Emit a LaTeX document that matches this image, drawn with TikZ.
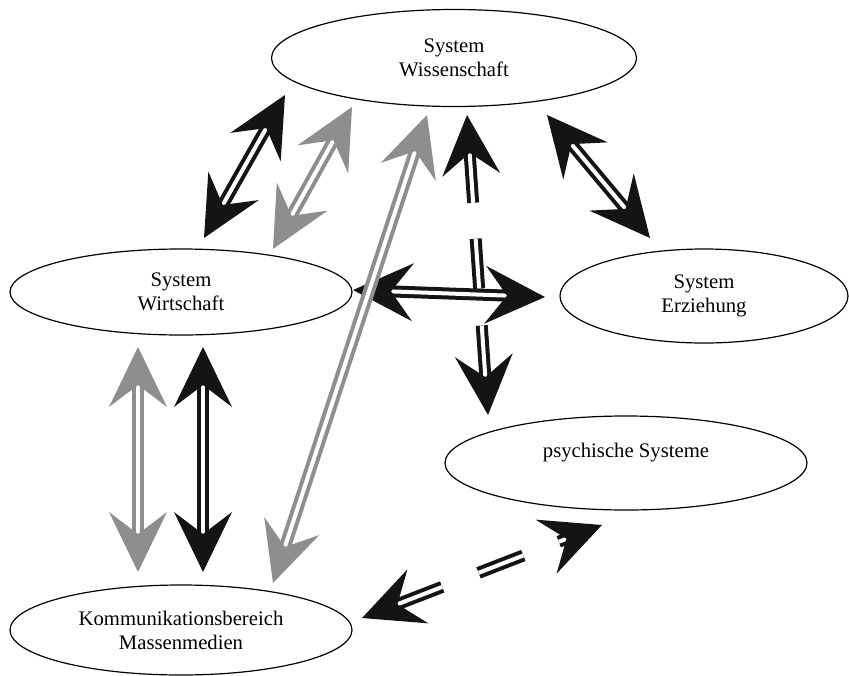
\documentclass[tikz,border=0pt]{standalone}
\usepackage{fontspec}
\setmainfont{Liberation Serif}
\usetikzlibrary{shapes.geometric,arrows.meta}
\definecolor{ink}{HTML}{141414}
\definecolor{ash}{HTML}{8E8E8E}
\tikzset{
  sys/.style={ellipse,draw,line width=1.2pt,inner sep=0pt,align=center,
    font=\fontsize{20.7}{24}\selectfont},
  dbl/.style={double=white,double distance=4pt,line width=4pt,
    {Stealth[length=60pt,width=58pt,inset=22pt,line width=0pt]}-{Stealth[length=60pt,width=58pt,inset=22pt,line width=0pt]}},
  blk/.style={dbl,draw=ink},
  gry/.style={dbl,draw=ash}
}
\begin{document}
\begin{tikzpicture}[x=1pt,y=-1pt,line join=miter]
      \useasboundingbox (0,0) rectangle (849,675);
      \node[sys,minimum width=365,minimum height=97] (wis) at (454,58) {System\\Wissenschaft};
      \node[sys,minimum width=342,minimum height=86] (wir) at (181,292) {System\\Wirtschaft};
      \node[sys,minimum width=288,minimum height=94] (erz) at (704,296) {System\\Erziehung};
      \node[sys,minimum width=362,minimum height=94,text depth=26pt] (psy) at (626,463) {psychische Systeme};
      \node[sys,minimum width=342,minimum height=90] (kom) at (181,630) {Kommunikationsbereich\\Massenmedien};

      \coordinate (a1) at (285,95);  \coordinate (b1) at (204,238);
      \coordinate (a2) at (352,107); \coordinate (b2) at (273,249);
      \coordinate (a3) at (427,115); \coordinate (b3) at (273,583);
      \coordinate (a4) at (467,115); \coordinate (b4) at (488,415);
      \coordinate (a5) at (353,290); \coordinate (b5) at (545,297);
      \coordinate (a6) at (547,115); \coordinate (b6) at (650,238);
      \coordinate (a7) at (138,347); \coordinate (b7) at (138,572);
      \coordinate (a8) at (203,347); \coordinate (b8) at (203,572);
      \coordinate (a9) at (362,618); \coordinate (b9) at (602,525);

      \draw[blk] (a1)--(b1);
      \draw[gry] (a2)--(b2);
      \draw[blk,dash pattern=on 50pt off 36pt on 50pt off 37pt on 100pt] (a4)--(b4);
      \draw[blk] (a5)--(b5);
      \draw[gry] (a3)--(b3);
      \draw[blk] (a6)--(b6);
      \draw[gry] (a7)--(b7);
      \draw[blk] (a8)--(b8);
      \draw[blk,dash pattern=on 48pt off 39pt on 48pt off 38pt on 60pt] (a9)--(b9);
\end{tikzpicture}
\end{document}
